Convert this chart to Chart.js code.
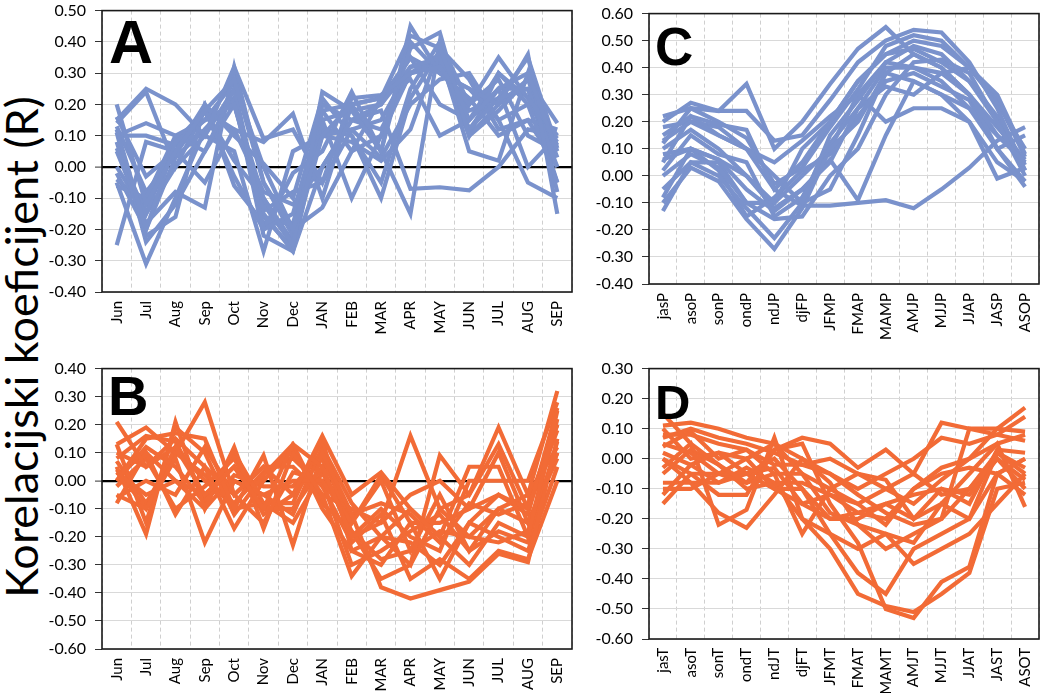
<!DOCTYPE html>
<html><head><meta charset="utf-8">
<script src="https://cdn.jsdelivr.net/npm/chart.js@4.4.0/dist/chart.umd.min.js"></script>
<style>
html,body{margin:0;padding:0;background:#fff;width:1040px;height:693px;overflow:hidden;position:relative}
canvas{position:absolute}
#ytitle{position:absolute;left:21px;top:347px;transform:translate(-50%,-50%) rotate(-90deg);font-family:Lato,sans-serif;font-size:45px;white-space:nowrap;color:#000;line-height:1}
</style></head><body>
<div id="ytitle">Korelacijski koeficijent (R)</div>
<canvas id="cA"></canvas><canvas id="cB"></canvas><canvas id="cC"></canvas><canvas id="cD"></canvas>
<script>
// ---- categories ----
const monthLabels = ["Jun","Jul","Aug","Sep","Oct","Nov","Dec","JAN","FEB","MAR","APR","MAY","JUN","JUL","AUG","SEP"];
const seasonP = ["jasP","asoP","sonP","ondP","ndJP","djFP","JFMP","FMAP","MAMP","AMJP","MJJP","JJAP","JASP","ASOP"];
const seasonT = ["jasT","asoT","sonT","ondT","ndJT","djFT","JFMT","FMAT","MAMT","AMJT","MJJT","JJAT","JAST","ASOT"];

// ---- panel A series ----
const a1 = [0.20,-0.12,0.05,0.18,0.28,-0.05,-0.20,0.10,0.20,0.22,0.42,0.38,0.15,0.25,0.30,0.05];
const a2 = [0.15,0.25,0.20,0.10,0.32,0.09,0.12,-0.05,0.22,0.23,0.30,0.32,0.20,0.35,0.22,0.10];
const a3 = [0.12,-0.20,0.08,0.15,0.20,-0.10,-0.25,0.24,0.18,0.05,0.45,0.30,0.25,0.20,0.36,-0.15];
const a4 = [0.10,0.14,0.10,0.05,0.25,-0.20,-0.15,0.18,0.05,0.10,0.38,0.43,0.10,0.18,0.28,0.14];
const a5 = [-0.05,-0.31,-0.10,0.12,0.22,-0.15,-0.27,0.00,0.15,0.20,0.32,0.35,0.12,0.22,0.25,0.00];
const a6 = [0.08,-0.22,-0.16,0.20,0.10,0.01,-0.10,0.22,0.10,-0.05,0.25,0.40,0.20,0.28,0.10,0.05];
const a7 = [0.00,-0.15,0.09,0.10,0.05,-0.27,0.05,0.10,0.12,0.03,0.20,0.28,0.30,0.15,0.20,-0.05];
const a8 = [-0.25,0.08,0.05,-0.05,0.12,0.08,0.17,-0.10,0.20,0.22,0.35,0.30,0.22,0.10,0.15,0.12];
const a9 = [0.05,-0.18,-0.08,-0.13,0.32,-0.05,-0.22,0.15,-0.10,0.10,0.30,0.36,0.05,0.02,0.30,-0.08];
const a10 = [0.14,0.24,0.00,0.18,-0.03,-0.20,-0.02,0.05,0.24,0.05,-0.15,0.40,0.10,0.30,0.20,0.08];
const a11 = [-0.06,-0.10,0.10,0.15,0.27,0.00,-0.20,-0.13,0.05,0.22,0.28,0.10,0.15,0.25,0.00,0.10];
const a12 = [0.11,-0.24,-0.12,0.05,0.20,-0.12,-0.25,0.20,0.15,0.12,0.30,0.33,0.18,0.22,0.35,0.06];
const a13 = [0.16,-0.03,0.05,0.20,-0.06,-0.18,-0.18,0.12,0.10,-0.10,0.22,0.37,0.12,0.25,0.25,-0.05];
const a14 = [-0.04,-0.12,0.08,0.18,0.12,-0.08,-0.12,0.00,0.15,0.18,-0.07,-0.065,-0.075,0.00,0.12,0.10];
const a15 = [0.06,-0.15,0.00,0.10,0.25,-0.16,-0.26,0.18,0.20,0.05,0.40,0.30,0.25,0.15,-0.05,-0.10];
const a16 = [0.10,0.10,0.07,0.15,0.20,-0.14,-0.08,-0.05,0.12,0.15,0.32,0.34,0.10,0.20,0.28,0.03];
const a17 = [0.13,-0.08,0.04,0.18,0.02,-0.10,-0.24,0.10,0.08,0.02,0.12,0.38,0.28,0.12,0.15,0.00];
const a18 = [-0.02,-0.20,0.03,0.12,0.22,-0.22,-0.27,0.15,0.18,0.20,0.35,0.20,0.15,0.30,0.22,0.07];

// ---- panel B series ----
const b1 = [0.21,0.05,0.12,-0.05,0.05,-0.10,0.13,0.05,-0.20,-0.15,0.16,-0.10,-0.05,0.19,-0.05,0.32];
const b2 = [0.13,0.19,0.10,0.28,-0.05,0.05,-0.05,0.16,-0.05,0.03,-0.10,-0.20,0.05,0.05,-0.20,0.25];
const b3 = [0.05,-0.19,0.21,-0.10,0.12,-0.17,0.10,-0.05,-0.34,-0.20,-0.30,0.09,-0.05,0.13,-0.10,0.20];
const b4 = [0.00,0.15,0.17,0.15,-0.10,0.09,-0.23,0.10,-0.12,-0.38,-0.42,-0.39,-0.36,-0.26,-0.29,0.15];
const b5 = [-0.05,-0.10,0.08,-0.22,0.00,-0.05,0.00,0.00,-0.15,0.00,-0.25,-0.05,-0.25,-0.10,-0.15,0.10];
const b6 = [-0.08,0.10,-0.12,0.05,-0.17,0.00,0.12,-0.10,-0.25,-0.30,-0.15,-0.35,-0.15,-0.20,-0.25,0.05];
const b7 = [0.03,-0.05,0.00,-0.05,0.05,-0.10,-0.10,0.05,-0.20,-0.10,-0.20,-0.25,0.00,0.00,0.00,0.28];
const b8 = [0.10,0.05,0.15,0.05,-0.05,0.05,0.05,-0.05,-0.10,-0.15,-0.05,0.00,-0.10,-0.05,-0.10,0.18];
const b9 = [0.00,0.12,0.05,-0.08,0.10,-0.08,-0.08,0.15,-0.25,-0.20,-0.10,-0.20,-0.30,-0.15,-0.20,0.22];
const b10 = [0.13,-0.15,0.19,0.10,-0.12,0.02,0.13,-0.08,-0.18,-0.35,-0.30,-0.10,-0.20,-0.10,-0.05,0.12];
const b11 = [-0.02,0.08,-0.10,-0.02,0.08,-0.12,-0.05,0.08,-0.15,0.02,-0.15,-0.15,-0.10,0.10,-0.15,0.08];
const b12 = [0.04,-0.10,0.12,0.00,-0.08,0.03,0.08,-0.02,-0.22,-0.12,-0.35,-0.28,-0.35,-0.25,-0.28,0.00];
const b13 = [0.08,0.16,0.14,-0.06,0.00,-0.05,-0.12,0.12,-0.08,-0.20,-0.22,-0.30,-0.15,-0.05,-0.12,0.26];
const b14 = [-0.06,0.00,-0.05,0.12,-0.05,-0.15,0.03,0.00,-0.30,-0.25,-0.18,-0.12,-0.25,-0.18,-0.22,0.14];
const b15 = [0.02,0.10,0.00,-0.10,0.02,-0.02,-0.02,0.10,-0.12,-0.08,-0.12,-0.22,-0.08,-0.12,-0.08,0.20];
const b16 = [0.07,-0.08,0.10,0.02,-0.10,-0.08,-0.15,0.03,-0.18,-0.28,-0.25,-0.18,-0.20,-0.22,-0.18,0.10];

// ---- panel C series ----
const c1 = [0.22,0.25,0.24,0.34,0.10,0.20,0.34,0.47,0.55,0.45,0.40,0.30,0.15,0.05];
const c2 = [0.20,0.27,0.24,0.24,0.13,0.15,0.28,0.42,0.50,0.54,0.53,0.42,0.25,0.02];
const c3 = [0.15,0.22,0.19,0.17,-0.05,0.05,0.20,0.35,0.45,0.50,0.48,0.40,0.30,0.08];
const c4 = [0.13,0.20,0.15,0.10,0.00,-0.10,0.15,0.28,0.42,0.48,0.45,0.35,0.20,0.00];
const c5 = [0.10,0.17,0.10,0.00,-0.10,0.00,0.10,0.20,0.38,0.45,0.40,0.30,0.10,-0.04];
const c6 = [0.06,0.10,0.06,-0.05,-0.13,-0.05,0.05,0.25,0.40,0.40,0.35,0.25,0.15,0.05];
const c7 = [0.00,0.08,0.03,-0.10,-0.16,-0.15,0.00,0.10,0.30,0.42,0.43,0.38,0.20,0.02];
const c8 = [-0.05,0.05,0.00,-0.12,-0.23,-0.10,-0.05,0.15,0.38,0.35,0.30,0.20,0.05,-0.02];
const c9 = [-0.10,0.03,-0.02,-0.16,-0.27,-0.12,0.10,0.30,0.42,0.40,0.38,0.30,0.18,0.06];
const c10 = [-0.13,0.05,0.05,-0.10,-0.10,0.10,0.20,0.35,0.45,0.47,0.42,0.35,0.22,0.04];
const c11 = [0.05,0.22,0.15,0.10,-0.05,-0.11,-0.11,-0.10,-0.09,-0.12,-0.05,0.03,0.13,0.18];
const c12 = [0.08,0.10,0.06,0.00,-0.12,-0.05,0.06,-0.09,0.15,0.35,0.30,0.25,0.10,0.15];
const c13 = [0.18,0.20,0.18,0.10,0.05,0.13,0.22,0.30,0.20,0.25,0.25,0.20,-0.01,0.03];
const c14 = [-0.08,0.10,0.02,-0.15,-0.08,0.02,0.08,0.22,0.35,0.38,0.33,0.28,0.10,-0.02];
const c15 = [0.02,0.15,0.08,0.05,-0.15,-0.08,0.12,0.25,0.33,0.30,0.38,0.40,0.27,0.10];
const c16 = [0.12,0.25,0.20,0.14,-0.03,0.03,0.18,0.32,0.48,0.52,0.50,0.40,0.28,0.07];

// ---- panel D series ----
const d1 = [0.15,0.05,-0.02,-0.08,0.03,0.07,0.05,-0.03,0.03,-0.05,0.12,0.10,0.10,0.17];
const d2 = [0.11,0.12,0.10,0.07,0.05,0.00,-0.05,-0.10,-0.05,0.00,0.07,0.05,0.08,0.14];
const d3 = [0.08,0.08,0.05,0.03,-0.05,-0.05,-0.10,-0.15,-0.10,-0.15,-0.07,0.00,0.10,0.09];
const d4 = [0.05,0.02,-0.05,0.00,-0.10,-0.15,-0.20,-0.18,-0.20,-0.10,-0.03,0.00,0.05,0.08];
const d5 = [0.02,-0.02,-0.08,-0.05,0.00,-0.10,-0.25,-0.38,-0.45,-0.30,-0.25,-0.20,0.02,-0.05];
const d6 = [0.00,-0.05,-0.12,-0.12,0.03,0.05,-0.15,-0.28,-0.50,-0.53,-0.41,-0.36,-0.05,0.00];
const d7 = [-0.03,0.05,-0.22,-0.17,0.07,-0.20,-0.30,-0.45,-0.49,-0.51,-0.45,-0.38,-0.10,-0.08];
const d8 = [-0.08,-0.08,-0.18,-0.23,-0.12,0.00,-0.08,-0.22,-0.30,-0.25,-0.20,-0.10,0.00,-0.10];
const d9 = [-0.10,-0.10,-0.05,-0.05,-0.10,-0.10,-0.20,-0.20,-0.15,-0.20,-0.15,-0.05,0.05,-0.16];
const d10 = [-0.12,-0.02,0.02,0.00,0.05,-0.05,-0.18,-0.22,-0.25,-0.35,-0.30,-0.25,-0.15,-0.05];
const d11 = [-0.15,-0.05,-0.05,-0.08,-0.05,-0.25,-0.10,-0.05,-0.10,-0.05,-0.12,-0.10,0.02,-0.03];
const d12 = [0.10,0.00,0.02,-0.05,-0.03,-0.15,-0.12,-0.15,-0.22,-0.10,-0.05,-0.03,-0.05,0.00];
const d13 = [0.04,0.09,0.00,0.03,-0.02,-0.02,-0.05,-0.12,-0.18,-0.22,-0.20,0.10,0.08,0.06];
const d14 = [0.00,-0.08,-0.08,-0.03,-0.08,-0.20,-0.25,-0.30,-0.25,-0.28,-0.15,-0.20,-0.05,-0.12];
const d15 = [-0.05,0.03,-0.02,-0.10,-0.08,-0.08,-0.12,-0.18,-0.15,-0.12,-0.10,-0.12,0.00,-0.07];
const d16 = [0.07,0.10,0.07,0.05,0.02,-0.02,0.00,-0.05,-0.07,-0.20,-0.10,-0.15,0.03,0.02];

const seriesA = [a1,a2,a3,a4,a5,a6,a7,a8,a9,a10,a11,a12,a13,a14,a15,a16,a17,a18];
const seriesB = [b1,b2,b3,b4,b5,b6,b7,b8,b9,b10,b11,b12,b13,b14,b15,b16];
const seriesC = [c1,c2,c3,c4,c5,c6,c7,c8,c9,c10,c11,c12,c13,c14,c15,c16];
const seriesD = [d1,d2,d3,d4,d5,d6,d7,d8,d9,d10,d11,d12,d13,d14,d15,d16];

const BLUE = '#7A92CC';
const ORANGE = '#F26B36';

const WY = 60, HX = 58, P = 15;

function makePanel(id, g, labels, series, color, yMin, yMax, letter, zeroLine, lt) {
  const cv = document.getElementById(id);
  const left = Math.round(g.L - WY - P), top = Math.round(g.T - P);
  const w = Math.round(g.R + P - left), h = Math.round(g.B + HX + P - top);
  cv.width = w; cv.height = h;
  cv.style.left = left + 'px'; cv.style.top = top + 'px';
  cv.style.width = w + 'px'; cv.style.height = h + 'px';
  const framePlugin = {
    id: 'frame' + id,
    afterDatasetsDraw(chart) {
      const a = chart.chartArea, ctx = chart.ctx;
      ctx.save();
      ctx.strokeStyle = '#1a1a1a'; ctx.lineWidth = 1.6;
      ctx.strokeRect(a.left, a.top, a.right - a.left, a.bottom - a.top);
      ctx.font = 'bold ' + lt.size + 'px "Liberation Sans", Arial, sans-serif';
      ctx.fillStyle = '#000'; ctx.textBaseline = 'alphabetic'; ctx.textAlign = 'left';
      ctx.fillText(letter, a.left + lt.dx, a.top + lt.dy);
      ctx.restore();
    }
  };
  return new Chart(cv, {
    type: 'line',
    data: {
      labels: labels,
      datasets: series.map((s, i) => ({
        label: letter + (i + 1), data: s, borderColor: color, borderWidth: 4.2,
        pointRadius: 0, tension: 0, fill: false
      }))
    },
    options: {
      responsive: false, animation: false, devicePixelRatio: 1,
      layout: { padding: P },
      plugins: { legend: { display: false }, tooltip: { enabled: false } },
      elements: { line: { borderJoinStyle: 'miter', borderCapStyle: 'butt' } },
      scales: {
        x: {
          offset: true,
          grid: { offset: true, drawTicks: false, color: '#cfcfcf', lineWidth: 1 },
          border: { display: false, dash: [4, 3] },
          ticks: { autoSkip: false, minRotation: 90, maxRotation: 90, padding: 9, color: '#000',
                   font: { family: 'Lato', size: 15 } },
          afterFit(scale) { scale.height = HX; }
        },
        y: {
          min: yMin, max: yMax,
          grid: {
            color: (c) => (zeroLine && c.tick && Math.abs(c.tick.value) < 1e-9) ? '#000' : '#d9d9d9',
            lineWidth: (c) => (zeroLine && c.tick && Math.abs(c.tick.value) < 1e-9) ? 2.2 : 1,
            tickColor: '#333', tickLength: 7, tickWidth: 1
          },
          border: { display: false },
          ticks: { stepSize: 0.1, padding: 9, color: '#000', font: { family: 'Lato', size: 16 },
                   callback: (v) => Math.abs(v) < 1e-9 ? '0.00' : Number(v).toFixed(2) },
          afterFit(scale) { scale.width = WY; }
        }
      }
    },
    plugins: [framePlugin]
  });
}

makePanel('cA', {L:102, T:7, R:572, B:292}, monthLabels, seriesA, BLUE, -0.4, 0.5, 'A', true, {size:61, dx:7, dy:52});
makePanel('cB', {L:102, T:364.5, R:572, B:649}, monthLabels, seriesB, ORANGE, -0.6, 0.4, 'B', true, {size:56, dx:6, dy:46});
makePanel('cC', {L:649, T:9.5, R:1039, B:284}, seasonP, seriesC, BLUE, -0.4, 0.6, 'C', false, {size:53, dx:6, dy:51});
makePanel('cD', {L:649, T:365, R:1039, B:638.7}, seasonT, seriesD, ORANGE, -0.6, 0.3, 'D', false, {size:49, dx:6, dy:50});
</script>
</body></html>
